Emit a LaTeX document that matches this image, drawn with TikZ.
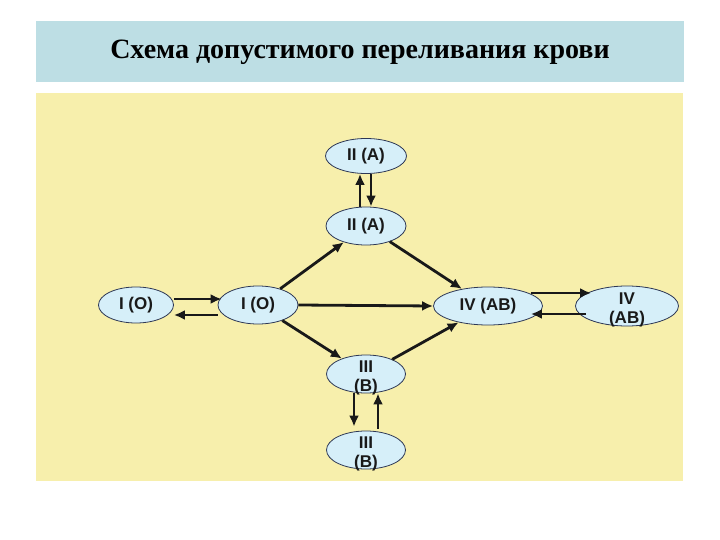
\documentclass[tikz,border=0pt]{standalone}
\usepackage{fontspec}
\setmainfont{Liberation Serif}
\setsansfont{Liberation Sans}
\usetikzlibrary{positioning,arrows.meta,shapes.geometric}
\definecolor{titleblue}{RGB}{189,222,228}
\definecolor{padyellow}{RGB}{247,239,172}
\definecolor{groupfill}{RGB}{214,239,249}
\definecolor{groupline}{RGB}{45,55,85}
\tikzset{
  group/.style={ellipse,draw=groupline,fill=groupfill,line width=0.8pt,
    minimum width=80pt,minimum height=38pt,inner sep=0pt,align=center,
    font=\sffamily\bfseries\fontsize{17}{19}\selectfont,text=black!90},
  twoline/.style={inner ysep=-8pt,text height=38pt,text depth=4pt},
  flow/.style={->,line width=2.8pt,black!90}
}

\begin{document}
\begin{tikzpicture}[x=1pt,y=-1pt,>={Latex[length=11pt,width=10pt]},node distance=70pt,on grid]
  \useasboundingbox[fill=white] (0,0) rectangle (720,540);
  \fill[titleblue] (36,21) rectangle (684,82);
  \fill[padyellow] (36,93) rectangle (683,481);
  \node[font=\bfseries\fontsize{28}{30}\selectfont] (title) at (360,52) {Схема допустимого переливания крови};

  \node[group](a2) at (366,226) {II (A)};
  \node[group,minimum width=81pt,minimum height=35pt](a2top) [above=70pt of a2] {II (A)};
  \node[group](o2) at (258,305) {I (O)};
  \node[group,minimum width=75pt,minimum height=36pt](o1) [left=122pt of o2] {I (O)};
  \node[group,minimum width=109pt](ab1) at (488,306) {IV (AB)};
  \node[group,twoline,minimum width=103pt,minimum height=40pt](ab2) [right=139pt of ab1] {IV\\(AB)};
  \node[group,twoline,minimum width=79pt](b1) at (366,374) {III\\(B)};
  \node[group,twoline,minimum width=79pt](b2) [below=76pt of b1] {III\\(B)};

  \draw[flow] ([xshift=-6pt]a2.north) -- ([xshift=-6pt]a2top.south);
  \draw[flow] ([xshift=5pt]a2top.south) -- ([xshift=5pt]a2.north);
  \draw[flow] ([yshift=6pt]o1.east) -- ([shift={(4pt,6pt)}]o2.west);
  \draw[flow] ([yshift=-10pt]o2.west) -- ([yshift=-10pt]o1.east);
  \draw[flow] ([shift={(-12pt,13pt)}]ab1.east) -- ([shift={(16pt,13pt)}]ab2.west);
  \draw[flow] ([shift={(11pt,-8pt)}]ab2.west) -- ([shift={(-12pt,-8pt)}]ab1.east);
  \draw[flow] ([xshift=-12pt]b1.south) -- ([shift={(-12pt,4pt)}]b2.north);
  \draw[flow] ([shift={(12pt,2pt)}]b2.north) -- ([xshift=12pt]b1.south);
  \path[flow]
    (o2) edge (a2)
    (a2) edge (ab1)
    (o2.east) edge (ab1.west)
    (o2) edge (b1)
    (b1) edge (ab1);
\end{tikzpicture}
\end{document}
